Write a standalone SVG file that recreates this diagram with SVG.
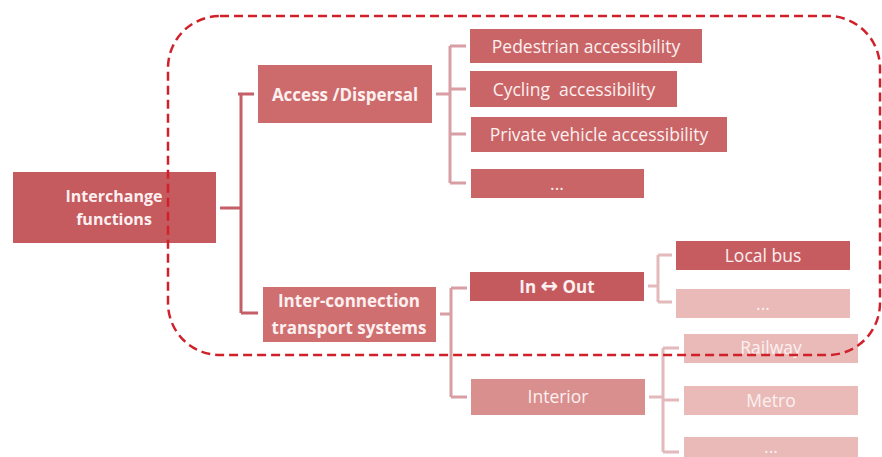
<svg xmlns="http://www.w3.org/2000/svg" width="882" height="457" viewBox="0 0 882 457">
<style>
text{font-family:"Open Sans","Liberation Sans",sans-serif;font-size:17.5px;fill:#fdf0f0;text-anchor:middle;dominant-baseline:central}
.b{font-weight:bold;font-size:17px}
.s{font-size:16px}
.arr{font-family:"DejaVu Sans",sans-serif;font-weight:bold;font-size:21px}
.c1{fill:none;stroke:#c45f68;stroke-width:3}
.c2{fill:none;stroke:#d89ea3;stroke-width:3}
.c3{fill:none;stroke:#e4b9bb;stroke-width:3}
.dash{fill:none;stroke:#d0212b;stroke-width:2.5;stroke-dasharray:9 5}
</style>
<rect width="882" height="457" fill="#fff"/>
<g id="connectors">
<path class="c1" d="M220 208H241M241 94V313M238 94H254M241 313H258"/>
<path class="c2" d="M436 94H450M450 46V183M450 46H466M450 89H466M450 134H466M450 183H466"/>
<path class="c2" d="M440 314H451M451 288V397M451 288H467M451 397H467"/>
<path class="c3" d="M648 286H658M658 255V302M658 255H672M658 302H672"/>
<path class="c3" d="M649 397H663M663 348V452M663 348H679M663 400H679M663 452H679"/>
</g>
<g id="n-interchange"><rect x="13" y="172" width="203" height="71" fill="#c55a5f"/><text class="b s" x="114" y="196">Interchange</text><text class="b s" x="114" y="219">functions</text></g>
<g id="n-access"><rect x="258" y="65" width="174" height="58" fill="#cd6b6c"/><text class="b" x="345" y="94">Access /Dispersal</text></g>
<g id="n-interconnection"><rect x="263" y="287" width="173" height="55" fill="#cf6f70"/><text class="b" x="349" y="300">Inter-connection</text><text class="b" x="349" y="327">transport systems</text></g>
<g id="n-pedestrian"><rect x="470" y="29" width="232" height="34" fill="#c96567"/><text x="586" y="46">Pedestrian accessibility</text></g>
<g id="n-cycling"><rect x="470" y="71" width="207" height="36" fill="#c96567"/><text x="574" y="89" xml:space="preserve">Cycling  accessibility</text></g>
<g id="n-private"><rect x="471" y="117" width="256" height="35" fill="#c96567"/><text x="599" y="134">Private vehicle accessibility</text></g>
<g id="n-access-more"><rect x="471" y="169" width="173" height="29" fill="#c96567"/><text x="557" y="183">...</text></g>
<g id="n-inout"><rect x="470" y="272" width="174" height="29" fill="#c55a5e"/><text class="b" x="557" y="286">In <tspan class="arr">↔</tspan> Out</text></g>
<g id="n-interior"><rect x="471" y="379" width="174" height="36" fill="#d98f8e"/><text x="558" y="396">Interior</text></g>
<g id="n-localbus"><rect x="676" y="241" width="174" height="29" fill="#c65c60"/><text x="763" y="255">Local bus</text></g>
<g id="n-inout-more"><rect x="676" y="289" width="174" height="29" fill="#e9bab7"/><text x="763" y="303">...</text></g>
<g id="n-railway"><rect x="684" y="334" width="174" height="29" fill="#e9bab7"/><text x="771" y="347">Railway</text></g>
<g id="n-metro"><rect x="684" y="386" width="174" height="29" fill="#e9bab7"/><text x="771" y="400">Metro</text></g>
<g id="n-interior-more"><rect x="684" y="437" width="174" height="29" fill="#e9bab7"/><text x="771" y="446">...</text></g>
<g id="boundary"><rect class="dash" x="168" y="16" width="712" height="339" rx="52" ry="52"/></g>
</svg>
